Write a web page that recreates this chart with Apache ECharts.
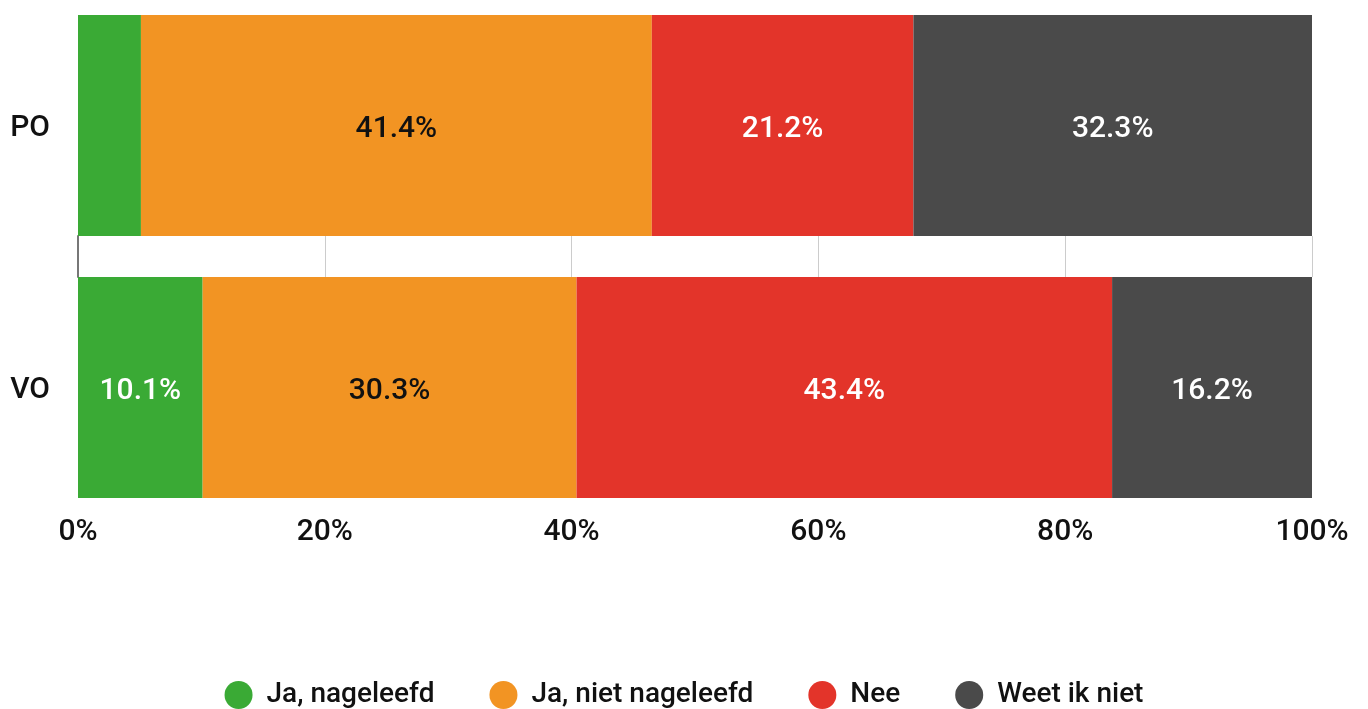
<!DOCTYPE html>
<html>
<head>
<meta charset="utf-8">
<script src="https://cdn.jsdelivr.net/npm/echarts@6/dist/echarts.min.js"></script>
<style>
  html, body { margin: 0; padding: 0; background: #fff; }
  #chart { width: 1368px; height: 709px; }
</style>
</head>
<body>
<div id="chart"></div>
<script>
// Survey groups and answer shares (percent of respondents)
const categories = ['PO', 'VO'];
const seriesNames = ['Ja, nageleefd', 'Ja, niet nageleefd', 'Nee', 'Weet ik niet'];
const jaNageleefd = [5.1, 10.1];
const jaNietNageleefd = [41.4, 30.3];
const nee = [21.2, 43.4];
const weetIkNiet = [32.3, 16.2];
const tickLabels = ['0%', '20%', '40%', '60%', '80%', '100%'];

const colors = ['#3aaa35', '#f29423', '#e3342a', '#4a4a4a'];
const labelColors = ['#ffffff', '#111111', '#ffffff', '#ffffff'];
const values = [jaNageleefd, jaNietNageleefd, nee, weetIkNiet];
const FONT = 'Roboto';

const chart = echarts.init(document.getElementById('chart'), null, { renderer: 'canvas' });

const series = values.map((vals, i) => ({
  name: seriesNames[i],
  type: 'bar',
  stack: 'total',
  barWidth: 221,
  data: vals,
  itemStyle: { color: colors[i] },
  label: {
    show: true,
    position: 'inside',
    offset: [0, 4],
    color: labelColors[i],
    fontFamily: FONT,
    fontWeight: 500,
    fontSize: 30,
    formatter: p => (p.value < 7 ? '' : p.value.toFixed(1) + '%')
  },
  emphasis: { disabled: true }
}));

// empty series so the gap grid (guide lines between the bars) is laid out
series.push({ type: 'bar', xAxisIndex: 1, yAxisIndex: 1, data: [], silent: true });

chart.setOption({
  animation: false,
  grid: [
    { left: 78, right: 56, top: -5.5, bottom: 190.5, outerBoundsMode: 'none' },
    // narrow band between the two bars that carries the guide lines
    { left: 78, right: 56, top: 236, height: 41, outerBoundsMode: 'none' }
  ],
  legend: {
    bottom: 0,
    left: 'center',
    padding: 0,
    icon: 'circle',
    itemWidth: 28,
    itemHeight: 28,
    itemGap: 55,
    data: seriesNames,
    textStyle: { fontFamily: FONT, fontWeight: 500, fontSize: 28, color: '#111', padding: [0, 0, 0, 9] }
  },
  xAxis: [
    {
      type: 'value',
      gridIndex: 0,
      min: 0,
      max: 100,
      interval: 20,
      axisLine: { show: false },
      axisTick: { show: false },
      splitLine: { show: false },
      axisLabel: {
        margin: -1,
        fontFamily: FONT,
        fontWeight: 500,
        fontSize: 30,
        color: '#111',
        formatter: v => tickLabels[Math.round(v / 20)]
      }
    },
    {
      type: 'value',
      gridIndex: 1,
      min: 0,
      max: 100,
      interval: 20,
      axisLine: { show: false },
      axisTick: { show: false },
      axisLabel: { show: false },
      splitLine: { show: true, lineStyle: { color: '#cccccc', width: 1 } }
    }
  ],
  yAxis: [
    {
      type: 'category',
      gridIndex: 0,
      inverse: true,
      data: categories,
      axisLine: { show: false },
      axisTick: { show: false },
      axisLabel: {
        margin: 28,
        verticalAlign: 'top',
        lineHeight: 6,
        fontFamily: FONT,
        fontWeight: 500,
        fontSize: 30,
        color: '#111'
      }
    },
    {
      type: 'category',
      gridIndex: 1,
      data: [''],
      axisLine: { show: true, lineStyle: { color: '#777', width: 2 } },
      axisTick: { show: false },
      axisLabel: { show: false }
    }
  ],
  series: series
});
</script>
</body>
</html>
